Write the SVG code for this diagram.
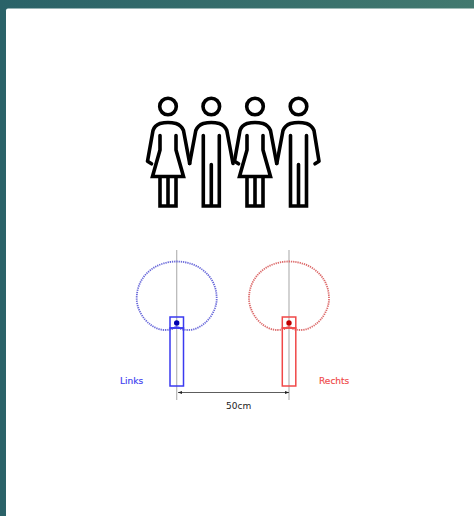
<svg xmlns="http://www.w3.org/2000/svg" width="474" height="516" viewBox="0 0 474 516">
<defs>
<linearGradient id="bg" x1="0" y1="0" x2="1" y2="0"><stop offset="0" stop-color="#2a6268"/><stop offset="1" stop-color="#42796f"/></linearGradient>
<marker id="arrL" markerWidth="6" markerHeight="6" refX="0" refY="2" orient="auto" markerUnits="userSpaceOnUse"><path d="M0 2L4 0.5V3.5Z" fill="#222"/></marker>
<marker id="arrR" markerWidth="6" markerHeight="6" refX="4" refY="2" orient="auto" markerUnits="userSpaceOnUse"><path d="M4 2L0 0.5V3.5Z" fill="#222"/></marker>
<path id="pattern" d="M0 65.500C-3.500 67.500-7 68.500-12 68.500C-17 68.500-23 66-27 62.500C-33 58-40 48-40 37C-40 15-22 0 0 0C22 0 40 15 40 37C40 48 33 58 27 62.500C23 66 17 68.500 12 68.500C7 68.500 3.500 67.500 0 65.500Z" fill="none" stroke-width="1.800" stroke-dasharray="1.300 0.900"/>
<g id="woman" class="fig">
<circle cx="0" cy="0" r="8.300"/>
<path d="M-16.500 57.300L-20.500 54.800L-15 24Q-13.500 19-8 17Q0 15 8 17Q13.500 19 15.500 24L21.700 57" stroke-linecap="round" stroke-linejoin="round"/>
<path d="M-8 29V43.500L-15.500 70H15.500L8 43.500V29" stroke-linecap="round"/>
<path d="M-8 70V99.500H8V70M0 70V99.500"/>
</g>
<g id="man" class="fig">
<circle cx="0" cy="0" r="8.300"/>
<path d="M-21.700 57L-15.500 24Q-13.500 19-8 17Q0 15 8 17Q13.500 19 15.500 24L21.700 57" stroke-linecap="round"/>
<path d="M-8 29V99.500H8V29M0 58V99.500" stroke-linecap="round"/>
</g>
<g id="man-end" class="fig">
<circle cx="0" cy="0" r="8.300"/>
<path d="M-21.700 57L-15.500 24Q-13.500 19-8 17Q0 15 8 17Q13.500 19 15.500 24L20.500 54.800L16.500 57.300" stroke-linecap="round" stroke-linejoin="round"/>
<path d="M-8 29V99.500H8V29M0 58V99.500" stroke-linecap="round"/>
</g>
</defs>
<style>
.fig{fill:none;stroke:#000;stroke-width:3.600;stroke-linejoin:miter}
.axis{stroke:#b5b5b5;stroke-width:1.200}
.t{font-family:"DejaVu Sans",Verdana,sans-serif;font-size:9px}
.box{fill:none;stroke-width:1.500}
</style>
<rect width="474" height="516" fill="url(#bg)"/>
<rect x="6" y="8.500" width="480" height="520" rx="2" fill="#fff"/>

<g id="people">
<use href="#woman" x="168" y="106.500"/>
<use href="#man" x="211.300" y="106.500"/>
<use href="#woman" x="255" y="106.500"/>
<use href="#man-end" x="298.500" y="106.500"/>
</g>

<g id="links" stroke="#3a3af0">
<line class="axis" x1="176.700" y1="250" x2="176.700" y2="400"/>
<use href="#pattern" x="176.700" y="261.500" stroke="#6a6ada"/>
<rect class="box" x="170" y="317" width="13.500" height="11"/>
<rect class="box" x="170" y="328" width="13.500" height="58"/>
<circle cx="176.700" cy="323" r="2.700" fill="#0000b0" stroke="none"/>
<path d="M173 328Q176.700 324 180.500 328" fill="none" stroke-width="0.500"/>
<text class="t" x="120" y="384" fill="#3a3af0" stroke="#3a3af0" stroke-width="0.150">Links</text>
</g>

<g id="rechts" stroke="#f04848">
<line class="axis" x1="289" y1="250" x2="289" y2="400"/>
<use href="#pattern" x="289" y="261.500" stroke="#dc6a6a"/>
<rect class="box" x="282.300" y="317" width="13.500" height="11"/>
<rect class="box" x="282.300" y="328" width="13.500" height="58"/>
<circle cx="289" cy="323" r="2.700" fill="#c00000" stroke="none"/>
<path d="M285.300 328Q289 324 292.800 328" fill="none" stroke-width="0.500"/>
<text class="t" x="319" y="384" fill="#f04848" stroke="#f04848" stroke-width="0.150">Rechts</text>
</g>

<g id="connectors">
<line x1="178" y1="392.500" x2="289" y2="392.500" stroke="#333" stroke-width="0.800" marker-start="url(#arrL)" marker-end="url(#arrR)"/>
</g>
<g id="dimension"><text class="t" x="226" y="409" fill="#222">50cm</text></g>
</svg>
